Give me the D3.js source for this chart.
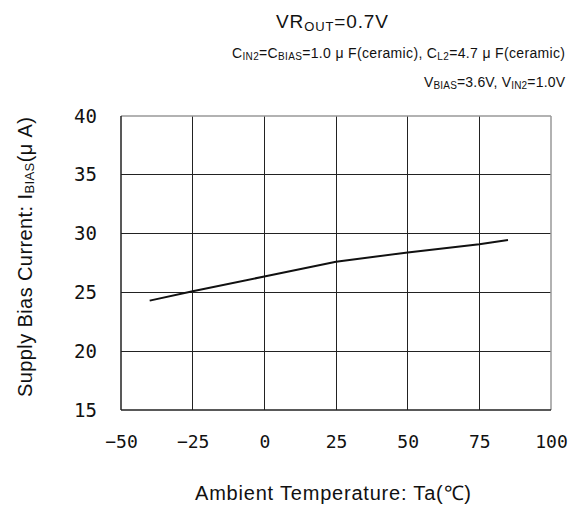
<!DOCTYPE html>
<html><head><meta charset="utf-8">
<script src="https://cdn.jsdelivr.net/npm/d3@7"></script>
<style>body{margin:0;background:#fff}svg{display:block}text{font-family:"Liberation Sans",Arial,sans-serif;fill:#111}</style>
</head><body>
<script>
const temps = [-40, -25, 0, 25, 50, 75, 85];
const biasCurrent = [24.3, 25.1, 26.35, 27.6, 28.4, 29.1, 29.45];
const xTicks = [-50, -25, 0, 25, 50, 75, 100];
const yTicks = [15, 20, 25, 30, 35, 40];

const W = 579, H = 509;
const m = {l:121, r:551, t:116, b:410};
const svg = d3.select("body").append("svg").attr("width", W).attr("height", H);
const x = d3.scaleLinear().domain([-50, 100]).range([m.l, m.r]);
const y = d3.scaleLinear().domain([15, 40]).range([m.b, m.t]);

// spread text horizontally (start anchored) so it spans [x0, x1]
function fit(sel, x0, x1) {
  const n = sel.text().length;
  const w = sel.node().getComputedTextLength();
  const ls = (x1 - x0 - w) / Math.max(1, n - 1);
  sel.style("letter-spacing", ls + "px");
}

// grid
svg.append("g").selectAll("line").data(xTicks.slice(1, -1)).join("line")
  .attr("x1", d => x(d)).attr("x2", d => x(d)).attr("y1", m.t).attr("y2", m.b)
  .attr("stroke", "#222").attr("stroke-width", 1).attr("shape-rendering", "crispEdges");
svg.append("g").selectAll("line").data(yTicks.slice(1, -1)).join("line")
  .attr("x1", m.l).attr("x2", m.r).attr("y1", d => y(d)).attr("y2", d => y(d))
  .attr("stroke", "#222").attr("stroke-width", 1).attr("shape-rendering", "crispEdges");

// frame
svg.append("line").attr("x1", m.l).attr("x2", m.r).attr("y1", m.t).attr("y2", m.t).attr("stroke", "#999").attr("stroke-width", 1.5);
svg.append("line").attr("x1", m.r).attr("x2", m.r).attr("y1", m.t).attr("y2", m.b).attr("stroke", "#999").attr("stroke-width", 1.5);
svg.append("line").attr("x1", m.l).attr("x2", m.l).attr("y1", m.t).attr("y2", m.b).attr("stroke", "#222").attr("stroke-width", 1.5);
svg.append("line").attr("x1", m.l).attr("x2", m.r).attr("y1", m.b).attr("y2", m.b).attr("stroke", "#222").attr("stroke-width", 1.5);

// axes
const xAxis = svg.append("g").attr("transform", `translate(0,${m.b})`)
  .call(d3.axisBottom(x).tickValues(xTicks).tickSize(0).tickPadding(25).tickFormat(d => d < 0 ? "\u2212" + Math.abs(d) : d));
xAxis.select(".domain").remove();
xAxis.selectAll("text").style("font-size", "18px").style("font-family", "'DejaVu Sans Mono',monospace").attr("fill", "#111");

const yAxis = svg.append("g").attr("transform", `translate(${m.l},0)`)
  .call(d3.axisLeft(y).tickValues(yTicks).tickSize(0).tickPadding(24));
yAxis.select(".domain").remove();
yAxis.selectAll("text").style("font-size", "19px").style("font-family", "'DejaVu Sans Mono',monospace").attr("fill", "#111");

// line
svg.append("path").datum(temps.map((t, i) => [t, biasCurrent[i]]))
  .attr("d", d3.line().x(d => x(d[0])).y(d => y(d[1])))
  .attr("fill", "none").attr("stroke", "#111").attr("stroke-width", 2);

// titles
const t1 = svg.append("text").attr("x", 276).attr("y", 28).style("font-size", "19px");
t1.append("tspan").text("VR");
t1.append("tspan").text("OUT").style("font-size", "13px").attr("dy", 3);
t1.append("tspan").text("=0.7V").attr("dy", -3);
fit(t1, 276, 388);

function sub(sel, parts) {
  parts.forEach(p => {
    if (p[1]) sel.append("tspan").text(p[0]).style("font-size", "10px").attr("dy", 2);
    else sel.append("tspan").text(p[0]).attr("dy", p[2] || 0);
  });
}
const t2 = svg.append("text").attr("x", 232).attr("y", 58).style("font-size", "14px");
sub(t2, [["C"], ["IN2", 1], ["=C", 0, -2], ["BIAS", 1], ["=1.0 \u03bc F(ceramic), C", 0, -2], ["L2", 1], ["=4.7 \u03bc F(ceramic)", 0, -2]]);
fit(t2, 232, 565);
const t3 = svg.append("text").attr("x", 424).attr("y", 87).style("font-size", "14px");
sub(t3, [["V"], ["BIAS", 1], ["=3.6V, V", 0, -2], ["IN2", 1], ["=1.0V", 0, -2]]);
fit(t3, 424, 565);

// axis titles
const xl = svg.append("text").attr("x", 195).attr("y", 500).style("font-size", "20px")
  .text("Ambient Temperature: Ta(\u2103)");
fit(xl, 195, 471);
const yl = svg.append("text").attr("transform", "translate(32,397) rotate(-90)").style("font-size", "20px");
yl.append("tspan").text("Supply Bias Current: I");
yl.append("tspan").text("BIAS").style("font-size", "13px").attr("dy", 2);
yl.append("tspan").text("(\u03bc A)").attr("dy", -2);
fit(yl, 117, 397);
</script>
</body></html>
